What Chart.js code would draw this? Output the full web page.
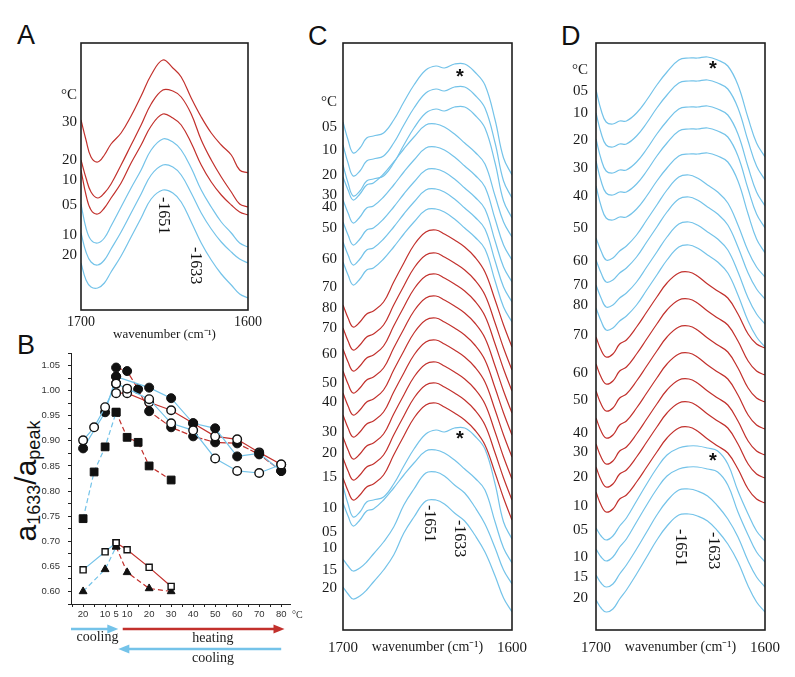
<!DOCTYPE html>
<html>
<head>
<meta charset="utf-8">
<title>Amide I spectra</title>
<script src="https://cdn.jsdelivr.net/npm/chart.js@4.4.0/dist/chart.umd.min.js"></script>
<style>
body {
	margin: 0;
	padding: 0;
	background: #fff;
	width: 795px;
	height: 677px;
	position: relative;
	overflow: hidden;
}
canvas {
	position: absolute;
}
.panel {
	position: absolute;
	font-family: "Liberation Sans", Arial, sans-serif;
	font-size: 27px;
	line-height: 1;
	color: #111;
}
#ylab {
	position: absolute;
	left: 27px;
	top: 481px;
	transform: translate(-50%, -50%) rotate(-90deg);
	font-family: "Liberation Sans", Arial, sans-serif;
	font-size: 30px;
	line-height: 1;
	white-space: nowrap;
	color: #111;
}
#ylab sub {
	font-size: 18px;
	vertical-align: -4px;
}
</style>
</head>
<body>
<div class="panel" style="left:17px;top:22px">A</div>
<div class="panel" style="left:17px;top:332px">B</div>
<div class="panel" style="left:308px;top:23px">C</div>
<div class="panel" style="left:561px;top:23px">D</div>
<div id="ylab">a<sub>1633</sub>/a<sub>peak</sub></div>

<canvas id="chartA" width="229" height="310" style="left:41px;top:33px"></canvas>
<canvas id="chartB" width="290" height="329" style="left:20px;top:345px"></canvas>
<canvas id="chartC" width="236" height="627" style="left:298px;top:33px"></canvas>
<canvas id="chartD" width="236" height="627" style="left:551px;top:33px"></canvas>

<script>
const BLUE = '#74c3e9';
const RED = '#c2302c';
const SERIF = "'Liberation Serif', 'Times New Roman', serif";
const SANS = "'Liberation Sans', Arial, sans-serif";

// wavenumber grid of the spectra (cm-1)
const wn = [1700, 1697, 1694, 1690, 1686, 1682, 1676, 1670, 1664, 1658, 1651, 1645, 1640, 1634, 1628, 1622, 1616, 1610, 1605, 1600];

// panel A: stacked spectra, absorbance in a.u. (top to bottom)
const a30 = [1.90, 1.70, 1.53, 1.48, 1.55, 1.66, 1.77, 1.94, 2.14, 2.35, 2.50, 2.42, 2.33, 2.12, 1.93, 1.77, 1.65, 1.55, 1.40, 1.37];
const a20 = [1.50, 1.32, 1.18, 1.12, 1.17, 1.26, 1.45, 1.65, 1.85, 2.06, 2.20, 2.19, 2.13, 1.96, 1.70, 1.50, 1.33, 1.18, 1.06, 1.03];
const a10 = [1.40, 1.15, 1.00, 0.96, 1.02, 1.12, 1.27, 1.47, 1.65, 1.84, 1.96, 1.92, 1.85, 1.67, 1.45, 1.28, 1.15, 1.05, 0.98, 0.95];
const a05c = [1.06, 0.82, 0.70, 0.67, 0.72, 0.84, 1.03, 1.22, 1.40, 1.60, 1.71, 1.68, 1.60, 1.42, 1.20, 1.03, 0.88, 0.77, 0.67, 0.63];
const a10c = [0.77, 0.58, 0.48, 0.45, 0.50, 0.61, 0.78, 0.97, 1.16, 1.35, 1.45, 1.43, 1.35, 1.17, 0.97, 0.81, 0.68, 0.58, 0.51, 0.47];
const a20c = [0.47, 0.30, 0.23, 0.22, 0.27, 0.38, 0.54, 0.73, 0.92, 1.11, 1.20, 1.17, 1.08, 0.88, 0.67, 0.50, 0.36, 0.25, 0.16, 0.12];
const aCurves = [a30, a20, a10, a05c, a10c, a20c];
const aHeating = [true, true, true, false, false, false];
const aTickVals = [2.15, 1.88, 1.50, 1.30, 1.05, 0.75, 0.55];
const aTickText = ['°C', '30', '20', '10', '05', '10', '20'];

// panel C: band shapes (relative to the band top) and the stacking level of each trace
const cDouble = [-0.59, -0.77, -0.90, -0.85, -0.75, -0.73, -0.70, -0.57, -0.39, -0.22, -0.07, -0.03, -0.05, -0.01, -0.01, -0.09, -0.22, -0.57, -0.95, -1.12];
const cBlue = [-0.53, -0.66, -0.76, -0.70, -0.61, -0.59, -0.50, -0.38, -0.25, -0.13, -0.01, 0.00, -0.03, -0.10, -0.19, -0.28, -0.40, -0.72, -0.98, -1.13];
const cRed = [-0.75, -0.88, -0.97, -0.92, -0.84, -0.81, -0.72, -0.52, -0.33, -0.15, -0.02, 0.00, -0.04, -0.10, -0.17, -0.27, -0.42, -0.70, -0.95, -1.17];
const cLow = [-0.87, -0.94, -0.99, -0.96, -0.90, -0.82, -0.70, -0.55, -0.33, -0.17, -0.01, 0.00, -0.04, -0.13, -0.21, -0.35, -0.52, -0.76, -0.98, -1.12];
const cLevels = [5.67, 5.44, 5.24, 5.06, 4.83, 4.61, 4.41, 4.21, 4.00, 3.77, 3.56, 3.34, 3.12, 2.90, 2.68, 2.47, 2.27, 2.03, 1.80, 1.58, 1.30];
const cShapeOf = ['d', 'd', 'd', 'b', 'b', 'b', 'b', 'b', 'r', 'r', 'r', 'r', 'r', 'r', 'r', 'r', 'r', 'd', 'b', 'l', 'l'];
const cTickVals = [5.28, 5.03, 4.80, 4.55, 4.35, 4.23, 4.02, 3.71, 3.43, 3.22, 3.02, 2.76, 2.47, 2.28, 1.98, 1.77, 1.53, 1.22, 0.98, 0.82, 0.60, 0.42];
const cTickText = ['°C', '05', '10', '20', '30', '40', '50', '60', '70', '80', '70', '60', '50', '40', '30', '20', '15', '10', '05', '10', '15', '20'];

// panel D
const dDouble = [-0.33, -0.53, -0.65, -0.67, -0.64, -0.64, -0.56, -0.43, -0.28, -0.15, -0.03, -0.01, -0.01, 0.00, -0.03, -0.09, -0.28, -0.61, -0.86, -1.00];
const dBlue = [-0.63, -0.76, -0.85, -0.83, -0.76, -0.71, -0.60, -0.45, -0.30, -0.15, -0.02, 0.00, -0.03, -0.10, -0.17, -0.28, -0.50, -0.76, -0.92, -1.02];
const dRed = [-0.65, -0.78, -0.85, -0.82, -0.72, -0.68, -0.55, -0.40, -0.25, -0.11, -0.01, 0.00, -0.04, -0.12, -0.19, -0.26, -0.42, -0.62, -0.72, -0.76];
const dLowA = [-0.82, -0.90, -0.94, -0.90, -0.80, -0.72, -0.55, -0.38, -0.22, -0.09, -0.02, 0.00, 0.00, -0.02, -0.05, -0.18, -0.45, -0.68, -0.85, -0.95];
const dLowB = [-0.86, -0.94, -0.98, -0.95, -0.85, -0.76, -0.60, -0.43, -0.26, -0.12, -0.01, 0.00, -0.02, -0.07, -0.17, -0.30, -0.48, -0.72, -0.88, -0.98];
const dLevels = [5.73, 5.50, 5.24, 5.02, 4.77, 4.55, 4.33, 4.08, 3.85, 3.58, 3.31, 3.04, 2.77, 2.51, 2.28, 2.03, 1.84, 1.63, 1.41, 1.16];
const dShapeOf = ['d', 'd', 'd', 'd', 'd', 'b', 'b', 'b', 'b', 'r', 'r', 'r', 'r', 'r', 'r', 'r', 'la', 'la', 'lb', 'lb'];
const dTickVals = [5.60, 5.39, 5.17, 4.90, 4.62, 4.34, 4.02, 3.69, 3.45, 3.25, 2.95, 2.57, 2.30, 1.97, 1.78, 1.53, 1.24, 1.00, 0.73, 0.53, 0.32];
const dTickText = ['°C', '05', '10', '20', '30', '40', '50', '60', '70', '80', '70', '60', '50', '40', '30', '20', '10', '05', '10', '15', '20'];

// panel B: position on the temperature path (1 step = 5 °C), ratio a1633/apeak
const bTickPos = [0, 2, 3, 4, 6, 8, 10, 12, 14, 16, 18];
const bTickText = ['20', '10', '5', '10', '20', '30', '40', '50', '60', '70', '80'];
const sqFillCoolX = [0, 1, 2, 3];
const sqFillCoolY = [0.745, 0.838, 0.888, 0.957];
const sqFillHeatX = [3, 4, 5, 6, 8];
const sqFillHeatY = [0.957, 0.907, 0.897, 0.850, 0.822];
const sqOpenCoolX = [0, 2, 3];
const sqOpenCoolY = [0.643, 0.679, 0.697];
const sqOpenHeatX = [3, 4, 6, 8];
const sqOpenHeatY = [0.697, 0.683, 0.648, 0.610];
const triCoolX = [0, 2, 3];
const triCoolY = [0.600, 0.644, 0.689];
const triHeatX = [3, 4, 6, 8];
const triHeatY = [0.689, 0.638, 0.606, 0.600];
const dotCool1X = [0, 2, 3];
const dotCool1Y = [0.885, 0.957, 1.028];
const dotHeatX = [3, 4, 5, 6, 8, 10, 12, 14, 16, 18];
const dotHeatY = [1.046, 1.039, 1.003, 0.959, 0.927, 0.909, 0.897, 0.895, 0.873, 0.840];
const dotCool2X = [18, 16, 14, 12, 10, 8, 6, 3];
const dotCool2Y = [0.840, 0.875, 0.869, 0.925, 0.935, 0.985, 1.006, 1.028];
const ringCool1X = [0, 1, 2, 3];
const ringCool1Y = [0.901, 0.927, 0.967, 1.014];
const ringHeatX = [3, 4, 6, 8, 10, 12, 14, 16, 18];
const ringHeatY = [0.995, 0.995, 0.977, 0.961, 0.935, 0.909, 0.903, 0.877, 0.853];
const ringCool2X = [18, 16, 14, 12, 10, 8, 6, 4, 3];
const ringCool2Y = [0.853, 0.836, 0.840, 0.865, 0.921, 0.935, 0.983, 1.004, 1.014];

function pts(xs, ys) {
	return xs.map((x, i) => ({x: x, y: ys[i]}));
}

// spectra traces
function trace(vals, color) {
	return {
		data: wn.map((w, i) => ({x: w, y: vals[i]})),
		borderColor: color,
		borderWidth: 1.2,
		pointRadius: 0,
		tension: 0.4,
		fill: false
	};
}
function stacked(levels, shapeOf, shapes) {
	return levels.map((lv, k) => {
		const s = shapes[shapeOf[k]];
		return trace(s.map(v => v + lv), shapeOf[k] === 'r' ? RED : BLUE);
	});
}

// keep the plot box where it is: no extra room for labels hanging over the ends
function noOverhang(s) {
	s.paddingTop = 0;
	s.paddingBottom = 0;
	s.paddingLeft = 0;
	s.paddingRight = 0;
}

const framePlugin = {
	id: 'frame',
	afterDraw(chart) {
		const {ctx, chartArea: a} = chart;
		ctx.save();
		ctx.strokeStyle = '#1e1e1e';
		ctx.lineWidth = 1.6;
		ctx.strokeRect(a.left, a.top, a.right - a.left, a.bottom - a.top);
		ctx.restore();
	}
};

const notesPlugin = {
	id: 'notes',
	afterDatasetsDraw(chart, args, opts) {
		const {ctx, scales: {x, y}} = chart;
		(opts.items || []).forEach(it => {
			const px = x.getPixelForValue(it.wn);
			const py = y.getPixelForValue(it.v);
			ctx.save();
			ctx.fillStyle = '#111';
			if (it.text === '*') {
				ctx.font = 'bold 20px ' + SANS;
				ctx.textAlign = 'center';
				ctx.textBaseline = 'middle';
				ctx.fillText('*', px, py);
			} else {
				ctx.translate(px, py);
				ctx.rotate(Math.PI / 2);
				ctx.font = '16px ' + SERIF;
				ctx.textAlign = 'left';
				ctx.textBaseline = 'middle';
				ctx.fillText(it.text, 0, 0);
			}
			ctx.restore();
		});
	}
};

function spectra(id, datasets, ymax, tickVals, tickText, o) {
	new Chart(document.getElementById(id), {
		type: 'line',
		data: {datasets: datasets},
		options: {
			responsive: false,
			animation: false,
			events: [],
			layout: {padding: {top: 10, right: o.padRight, left: 0, bottom: 0}},
			plugins: {
				legend: {display: false},
				tooltip: {enabled: false},
				notes: {items: o.notes}
			},
			scales: {
				x: {
					type: 'linear',
					min: 1600,
					max: 1700,
					reverse: true,
					grid: {display: false, drawTicks: false},
					border: {display: false},
					afterBuildTicks: s => { s.ticks = [{value: 1700}, {value: 1600}]; },
					ticks: {
						autoSkip: false,
						maxRotation: 0,
						padding: o.xPad,
						color: '#1a1a1a',
						font: {family: SERIF, size: o.tickSize},
						callback: v => String(v)
					},
					title: {
						display: true,
						text: 'wavenumber (cm\u207B\u00B9)',
						color: '#1a1a1a',
						font: {family: SERIF, size: o.titleSize},
						padding: {top: 0, bottom: o.titlePad}
					},
					afterFit: s => { s.height = o.xHeight; noOverhang(s); }
				},
				y: {
					type: 'linear',
					min: 0,
					max: ymax,
					grid: {display: false, drawTicks: false},
					border: {display: false},
					afterBuildTicks: s => { s.ticks = tickVals.map(v => ({value: v})); },
					ticks: {
						autoSkip: false,
						padding: o.yPad,
						color: '#1a1a1a',
						font: {family: SERIF, size: 15},
						callback: (v, i) => tickText[i]
					},
					afterFit: s => { s.width = o.yWidth; noOverhang(s); }
				}
			}
		},
		plugins: [framePlugin, notesPlugin]
	});
}

spectra('chartA',
	aCurves.map((c, k) => trace(c, aHeating[k] ? RED : BLUE)),
	2.67, aTickVals, aTickText,
	{padRight: 22, xPad: 4, xHeight: 33, titlePad: 1, titleSize: 13, tickSize: 14, yPad: 4, yWidth: 40,
	 notes: [{text: '-1651', wn: 1650.5, v: 1.13}, {text: '-1633', wn: 1631.7, v: 0.63}]});

spectra('chartC',
	stacked(cLevels, cShapeOf, {d: cDouble, b: cBlue, r: cRed, l: cLow}),
	5.87, cTickVals, cTickText,
	{padRight: 22, xPad: 9, xHeight: 30, titlePad: 4, titleSize: 14, tickSize: 15, yPad: 6, yWidth: 45,
	 notes: [{text: '-1651', wn: 1649.1, v: 1.25}, {text: '-1633', wn: 1631.4, v: 1.10},
	         {text: '*', wn: 1630.8, v: 5.53}, {text: '*', wn: 1630.8, v: 1.91}]});

spectra('chartD',
	stacked(dLevels, dShapeOf, {d: dDouble, b: dBlue, r: dRed, la: dLowA, lb: dLowB}),
	5.87, dTickVals, dTickText,
	{padRight: 22, xPad: 9, xHeight: 30, titlePad: 4, titleSize: 14, tickSize: 15, yPad: 8, yWidth: 45,
	 notes: [{text: '-1651', wn: 1650.3, v: 1.01}, {text: '-1633', wn: 1630.8, v: 0.98},
	         {text: '*', wn: 1630.8, v: 5.61}, {text: '*', wn: 1630.8, v: 1.69}]});

// panel B
function arrow(ctx, x1, x2, y, color) {
	const dir = Math.sign(x2 - x1);
	ctx.strokeStyle = color;
	ctx.fillStyle = color;
	ctx.lineWidth = 2.4;
	ctx.beginPath();
	ctx.moveTo(x1, y);
	ctx.lineTo(x2 - dir * 8, y);
	ctx.stroke();
	ctx.beginPath();
	ctx.moveTo(x2, y);
	ctx.lineTo(x2 - dir * 11, y - 4.5);
	ctx.lineTo(x2 - dir * 11, y + 4.5);
	ctx.closePath();
	ctx.fill();
}

const pathPlugin = {
	id: 'path',
	afterDraw(chart) {
		const {ctx, chartArea: a, scales: {x}} = chart;
		const y0 = a.bottom;
		ctx.save();
		ctx.fillStyle = '#333';
		ctx.font = '10px ' + SERIF;
		ctx.textAlign = 'left';
		ctx.textBaseline = 'middle';
		ctx.fillText('°C', a.right + 2, y0 + 11);
		arrow(ctx, a.left, x.getPixelForValue(3.2), y0 + 25, BLUE);
		arrow(ctx, x.getPixelForValue(3.6), x.getPixelForValue(18.3), y0 + 25, RED);
		arrow(ctx, x.getPixelForValue(18), x.getPixelForValue(3.2), y0 + 45, BLUE);
		ctx.fillStyle = '#222';
		ctx.font = '14px ' + SERIF;
		ctx.textAlign = 'center';
		ctx.fillText('cooling', x.getPixelForValue(1.3), y0 + 33);
		ctx.fillText('heating', x.getPixelForValue(11.8), y0 + 34);
		ctx.fillText('cooling', x.getPixelForValue(11.8), y0 + 54);
		ctx.restore();
	}
};

function bSet(xs, ys, color, dash, style, fill, r) {
	return {
		data: pts(xs, ys),
		showLine: true,
		borderColor: color,
		borderWidth: 1.2,
		borderDash: dash,
		pointStyle: style,
		pointRadius: r,
		pointBackgroundColor: fill,
		pointBorderColor: '#111',
		pointBorderWidth: fill === '#fff' ? 1.4 : 1
	};
}

const DASH = [5, 3];
new Chart(document.getElementById('chartB'), {
	type: 'scatter',
	data: {
		datasets: [
			bSet(sqFillCoolX, sqFillCoolY, BLUE, DASH, 'rect', '#111', 5.5),
			bSet(sqFillHeatX, sqFillHeatY, RED, DASH, 'rect', '#111', 5.5),
			bSet(sqOpenCoolX, sqOpenCoolY, BLUE, [], 'rect', '#fff', 4.3),
			bSet(sqOpenHeatX, sqOpenHeatY, RED, [], 'rect', '#fff', 4.3),
			bSet(triCoolX, triCoolY, BLUE, DASH, 'triangle', '#111', 4.5),
			bSet(triHeatX, triHeatY, RED, DASH, 'triangle', '#111', 4.5),
			bSet(ringCool2X, ringCool2Y, BLUE, [], 'circle', '#fff', 4.3),
			bSet(dotCool2X, dotCool2Y, BLUE, [], 'circle', '#111', 4.5),
			bSet(ringHeatX, ringHeatY, RED, [], 'circle', '#fff', 4.3),
			bSet(dotHeatX, dotHeatY, RED, [6, 2], 'circle', '#111', 4.5),
			bSet(ringCool1X, ringCool1Y, BLUE, [], 'circle', '#fff', 4.3),
			bSet(dotCool1X, dotCool1Y, BLUE, [], 'circle', '#111', 4.5)
		]
	},
	options: {
		responsive: false,
		animation: false,
		events: [],
		layout: {padding: {top: 8, right: 20, left: 0, bottom: 52}},
		plugins: {legend: {display: false}, tooltip: {enabled: false}},
		scales: {
			x: {
				type: 'linear',
				min: -1.1,
				max: 18.8,
				grid: {drawOnChartArea: false, tickLength: 3, color: '#222'},
				border: {color: '#222', width: 1},
				ticks: {
					stepSize: 1,
					includeBounds: false,
					autoSkip: false,
					maxRotation: 0,
					padding: 2,
					color: '#333',
					font: {family: SANS, size: 9.5},
					callback: v => {
						const i = bTickPos.indexOf(Math.round(v));
						return (Math.abs(v - Math.round(v)) < 1e-6 && i >= 0) ? bTickText[i] : '';
					}
				},
				afterFit: s => { s.height = 18; noOverhang(s); }
			},
			y: {
				min: 0.575,
				max: 1.075,
				grid: {drawOnChartArea: false, tickLength: 3, color: '#222'},
				border: {color: '#222', width: 1},
				ticks: {
					stepSize: 0.025,
					includeBounds: false,
					autoSkip: false,
					padding: 8,
					color: '#333',
					font: {family: SANS, size: 9.5},
					callback: v => {
						const k = Math.round(v * 40);
						return (k % 2 === 0 && v > 0.59 && v < 1.06) ? (k / 40).toFixed(2) : '';
					}
				},
				afterFit: s => { s.width = 51; noOverhang(s); }
			}
		}
	},
	plugins: [pathPlugin]
});
</script>
</body>
</html>
